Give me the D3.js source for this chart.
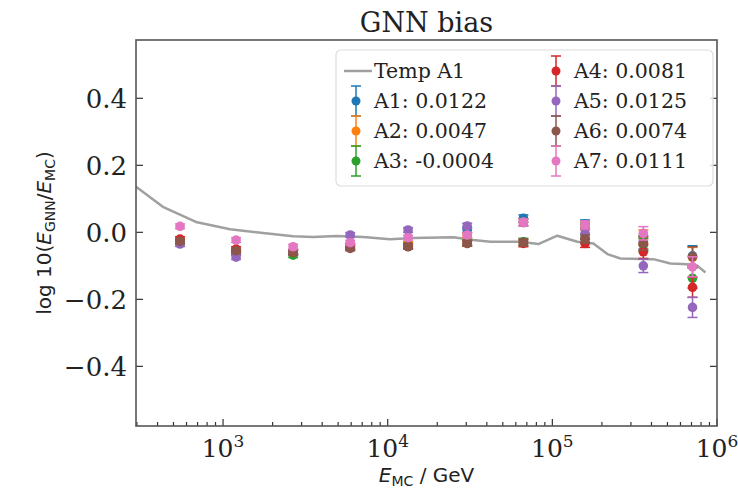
<!DOCTYPE html>
<html lang="en">
<head>
    <meta charset="UTF-8">
    <script src="https://d3js.org/d3.v7.min.js"></script>
    <title>GNN bias</title>
    <style>
        body { margin: 0; background: #fff; }
        svg text { fill: #222; }
    </style>
</head>
<body>
    <div id="my_dataviz"></div>
    <script>
        // energy bins (GeV) of the test points
        const energyBins = [548, 1200, 2665, 5920, 13300, 30400, 66700, 158000, 357000, 710000];

        const seriesNames = ["A1", "A2", "A3", "A4", "A5", "A6", "A7"];
        const seriesScores = ["0.0122", "0.0047", "-0.0004", "0.0081", "0.0125", "0.0074", "0.0111"];
        const seriesColors = ["#1f77b4", "#ff7f0e", "#2ca02c", "#d62728", "#9467bd", "#8c564b", "#e377c2"];

        // bias per bin for every model
        const biasA1 = [-0.030, -0.060, -0.060, -0.040, -0.035, 0.007, 0.042, 0.025, -0.030, -0.070];
        const biasA2 = [-0.025, -0.055, -0.058, -0.040, -0.035, -0.010, 0.030, 0.019, -0.013, -0.075];
        const biasA3 = [-0.028, -0.062, -0.068, -0.045, -0.040, -0.030, -0.028, -0.017, -0.038, -0.137];
        const biasA4 = [-0.020, -0.050, -0.060, -0.045, -0.042, -0.033, -0.033, -0.033, -0.058, -0.164];
        const biasA5 = [-0.035, -0.074, -0.058, -0.008, 0.007, 0.019, 0.029, -0.003, -0.100, -0.224];
        const biasA6 = [-0.027, -0.055, -0.060, -0.048, -0.043, -0.033, -0.030, -0.020, -0.033, -0.073];
        const biasA7 = [0.018, -0.023, -0.043, -0.031, -0.016, -0.008, 0.030, 0.022, -0.003, -0.103];

        // error bar half widths per bin (same for all models)
        const biasErr = [0.007, 0.007, 0.007, 0.007, 0.007, 0.008, 0.010, 0.012, 0.020, 0.030];

        // template line
        const tempEnergy = [296, 431, 695, 1103, 1750, 2665, 3525, 4930, 7100, 10340, 14290, 25000, 33100,
            42000, 63900, 82200, 107200, 141800, 177500, 216000, 259000, 411000, 521000, 662000, 761000, 851000];
        const tempBias = [0.136, 0.076, 0.030, 0.009, -0.002, -0.012, -0.014, -0.011, -0.014, -0.021, -0.017, -0.015, -0.023,
            -0.028, -0.028, -0.035, -0.010, -0.028, -0.033, -0.065, -0.078, -0.080, -0.093, -0.095, -0.100, -0.120];

        const yTicks = [-0.4, -0.2, 0.0, 0.2, 0.4];
        const xTicks = [1e3, 1e4, 1e5, 1e6];

        const allBias = [biasA1, biasA2, biasA3, biasA4, biasA5, biasA6, biasA7];

        const W = 738, H = 489;
        const margin = { top: 40, right: 21, bottom: 63, left: 136 },
            width = W - margin.left - margin.right,
            height = H - margin.top - margin.bottom;

        const svgRoot = d3.select("#my_dataviz")
            .append("svg")
            .attr("width", W)
            .attr("height", H);
        const svg = svgRoot.append("g")
            .attr("transform", `translate(${margin.left},${margin.top})`);

        const x = d3.scaleLog()
            .domain([296, 1e6])
            .range([0, width]);
        const y = d3.scaleLinear()
            .domain([-0.578, 0.574])
            .range([height, 0]);

        const serif = "DejaVu Serif, serif";
        const sans = "DejaVu Sans, sans-serif";

        // minor ticks on the log axis
        const minor = [];
        for (let e = 2; e <= 5; e++) {
            for (let m = 2; m <= 9; m++) {
                const v = m * Math.pow(10, e);
                if (v >= x.domain()[0] && v <= x.domain()[1]) minor.push(v);
            }
        }

        const ticks = svg.append("g").attr("stroke", "#333").attr("stroke-width", 1.2);
        ticks.selectAll(".xmaj").data(xTicks).join("line")
            .attr("x1", d => x(d)).attr("x2", d => x(d))
            .attr("y1", height).attr("y2", height - 7);
        ticks.selectAll(".xmin").data(minor).join("line")
            .attr("x1", d => x(d)).attr("x2", d => x(d))
            .attr("y1", height).attr("y2", height - 4);
        ticks.selectAll(".yl").data(yTicks).join("line")
            .attr("x1", 0).attr("x2", 7)
            .attr("y1", d => y(d)).attr("y2", d => y(d));
        ticks.selectAll(".yr").data(yTicks).join("line")
            .attr("x1", width).attr("x2", width - 7)
            .attr("y1", d => y(d)).attr("y2", d => y(d));

        // y tick labels
        svg.append("g").selectAll("text").data(yTicks).join("text")
            .attr("x", -9)
            .attr("y", d => y(d))
            .attr("dy", "0.36em")
            .attr("text-anchor", "end")
            .attr("font-family", serif)
            .attr("font-size", 26)
            .text(d => d3.format(".1f")(d).replace("-", "\u2212"));

        // x tick labels 10^n
        const xl = svg.append("g").selectAll("text").data(xTicks).join("text")
            .attr("x", d => x(d))
            .attr("y", height + 31)
            .attr("text-anchor", "middle")
            .attr("font-family", serif)
            .attr("font-size", 25);
        xl.append("tspan").text("10");
        xl.append("tspan").attr("dy", -10).attr("font-size", 17).text(d => Math.round(Math.log10(d)));

        // template line
        const line = d3.line()
            .x((d, i) => x(tempEnergy[i]))
            .y(d => y(d));
        svgRoot.append("defs").append("clipPath").attr("id", "clip")
            .append("rect").attr("width", width).attr("height", height);
        svg.append("path")
            .datum(tempBias)
            .attr("clip-path", "url(#clip)")
            .attr("fill", "none")
            .attr("stroke", "#a0a0a0")
            .attr("stroke-width", 2.5)
            .attr("stroke-linejoin", "round")
            .attr("d", line);

        // error bars and points
        allBias.forEach((vals, s) => {
            const g = svg.append("g").attr("stroke", seriesColors[s]).attr("fill", seriesColors[s]);
            const pts = vals.map((v, i) => ({ e: energyBins[i], v: v, err: biasErr[i] }));
            g.selectAll(".bar").data(pts).join("line")
                .attr("x1", d => x(d.e)).attr("x2", d => x(d.e))
                .attr("y1", d => y(d.v - d.err)).attr("y2", d => y(d.v + d.err))
                .attr("stroke-width", 1.5);
            g.selectAll(".capt").data(pts).join("line")
                .attr("x1", d => x(d.e) - 5).attr("x2", d => x(d.e) + 5)
                .attr("y1", d => y(d.v + d.err)).attr("y2", d => y(d.v + d.err))
                .attr("stroke-width", 1.5);
            g.selectAll(".capb").data(pts).join("line")
                .attr("x1", d => x(d.e) - 5).attr("x2", d => x(d.e) + 5)
                .attr("y1", d => y(d.v - d.err)).attr("y2", d => y(d.v - d.err))
                .attr("stroke-width", 1.5);
            g.selectAll("circle").data(pts).join("circle")
                .attr("cx", d => x(d.e))
                .attr("cy", d => y(d.v))
                .attr("r", 4.8)
                .attr("stroke", "none");
        });

        // frame
        svg.append("rect")
            .attr("width", width).attr("height", height)
            .attr("fill", "none").attr("stroke", "#555").attr("stroke-width", 1.6);

        // title
        svgRoot.append("text")
            .attr("x", margin.left + width / 2)
            .attr("y", 32)
            .attr("text-anchor", "middle")
            .attr("font-family", serif)
            .attr("font-size", 27)
            .text("GNN bias");

        // axis labels
        const xlab = svgRoot.append("text")
            .attr("x", margin.left + width / 2)
            .attr("y", 482)
            .attr("text-anchor", "middle")
            .attr("font-family", sans)
            .attr("font-size", 20);
        xlab.append("tspan").attr("font-style", "italic").text("E");
        xlab.append("tspan").attr("font-size", 14).attr("dy", 4).text("MC");
        xlab.append("tspan").attr("dy", -4).text(" / GeV");

        const ylab = svgRoot.append("text")
            .attr("transform", `translate(51,${margin.top + height / 2}) rotate(-90)`)
            .attr("text-anchor", "middle")
            .attr("font-family", sans)
            .attr("font-size", 20);
        ylab.append("tspan").text("log 10(");
        ylab.append("tspan").attr("font-style", "italic").text("E");
        ylab.append("tspan").attr("font-size", 14).attr("dy", 4).text("GNN");
        ylab.append("tspan").attr("dy", -4).text("/");
        ylab.append("tspan").attr("font-style", "italic").text("E");
        ylab.append("tspan").attr("font-size", 14).attr("dy", 4).text("MC");
        ylab.append("tspan").attr("dy", -4).text(")");

        // legend
        const legend = svgRoot.append("g").attr("transform", "translate(336,50)");
        legend.append("rect")
            .attr("width", 377).attr("height", 136)
            .attr("rx", 5)
            .attr("fill", "#fff").attr("fill-opacity", 0.8)
            .attr("stroke", "#ddd").attr("stroke-width", 1.2);

        const items = [{ name: "Temp A1", color: "#a0a0a0", line: true }]
            .concat(seriesNames.map((n, i) => ({ name: n + ": " + seriesScores[i], color: seriesColors[i], line: false })));
        const item = legend.selectAll(".item").data(items).join("g")
            .attr("transform", (d, i) => `translate(${i < 4 ? 20 : 220},${21 + (i % 4) * 30})`);
        item.filter(d => d.line).append("line")
            .attr("x1", -12).attr("x2", 16)
            .attr("stroke", d => d.color).attr("stroke-width", 2.5);
        const eb = item.filter(d => !d.line);
        eb.append("line").attr("y1", -15).attr("y2", 15).attr("stroke", d => d.color).attr("stroke-width", 1.5);
        eb.append("line").attr("x1", -5).attr("x2", 5).attr("y1", -15).attr("y2", -15).attr("stroke", d => d.color).attr("stroke-width", 1.5);
        eb.append("line").attr("x1", -5).attr("x2", 5).attr("y1", 15).attr("y2", 15).attr("stroke", d => d.color).attr("stroke-width", 1.5);
        eb.append("circle").attr("r", 4.5).attr("fill", d => d.color);
        item.append("text")
            .attr("x", 18)
            .attr("dy", "0.35em")
            .attr("font-family", serif)
            .attr("font-size", 20.5)
            .text(d => d.name);
    </script>
</body>
</html>
